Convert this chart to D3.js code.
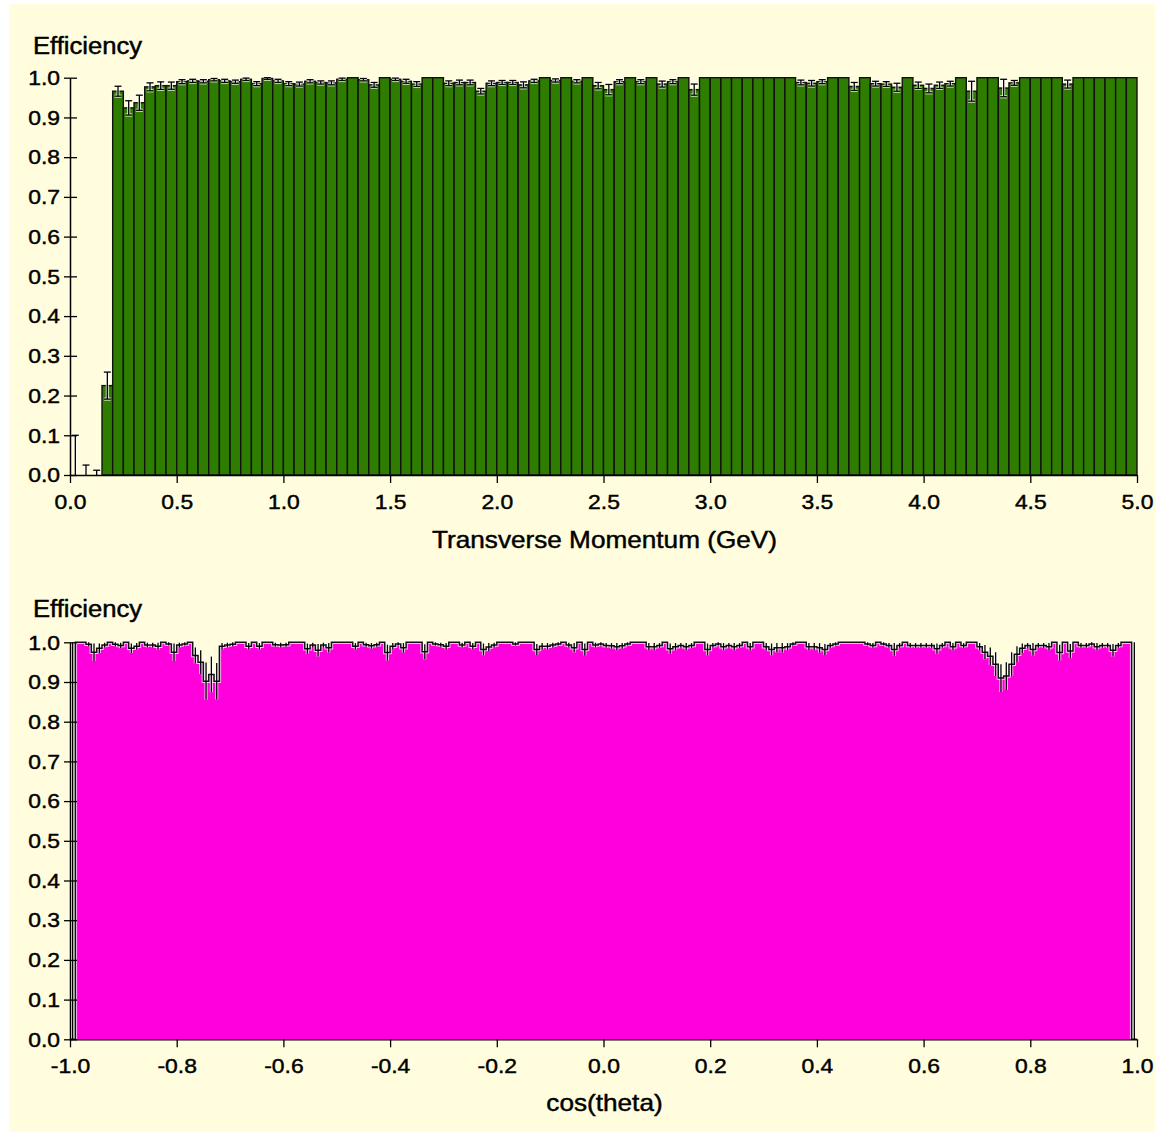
<!DOCTYPE html>
<html>
<head>
<meta charset="utf-8">
<script src="https://cdn.jsdelivr.net/npm/d3@7"></script>
<style>
  html, body { margin: 0; padding: 0; background: #ffffff; }
  svg { display: block; }
  text { font-family: "Liberation Sans", Arial, sans-serif; fill: #000; }
</style>
</head>
<body>
<script>
// ---------------- DATA ----------------
// Top: efficiency vs transverse momentum, 100 bins of 0.05 GeV from 0 to 5 GeV
const ptRange = [0, 5];
const ptValues = [
  0, 0, 0, 0.225, 0.966, 0.924, 0.937, 0.977, 0.980, 0.980,
  0.990, 0.992, 0.991, 0.995, 0.992, 0.990, 0.996, 0.985, 0.998, 0.992,
  0.985, 0.984, 0.991, 0.988, 0.987, 0.996, 1.0, 0.995, 0.982, 1.0,
  0.996, 0.991, 0.984, 1.0, 1.0, 0.986, 0.988, 0.988, 0.966, 0.986,
  0.988, 0.988, 0.982, 0.992, 1.0, 0.993, 1.0, 0.991, 1.0, 0.980,
  0.970, 0.990, 1.0, 0.990, 1.0, 0.984, 0.990, 1.0, 0.970, 1.0,
  1.0, 1.0, 1.0, 1.0, 1.0, 1.0, 1.0, 1.0, 0.988, 0.986,
  0.990, 1.0, 1.0, 0.978, 1.0, 0.985, 0.984, 0.976, 1.0, 0.981,
  0.973, 0.981, 0.985, 1.0, 0.966, 1.0, 1.0, 0.974, 0.987, 1.0,
  1.0, 1.0, 1.0, 0.984, 1.0, 1.0, 1.0, 1.0, 1.0, 1.0
];
const ptErrors = [
  0.1, 0.025, 0.012, 0.034, 0.0125, 0.018, 0.019, 0.010, 0.0095, 0.009,
  0.005, 0.004, 0.004, 0.003, 0.004, 0.004, 0.003, 0.005, 0.002, 0.004,
  0.005, 0.005, 0.004, 0.004, 0.005, 0.003, 0, 0.003, 0.006, 0,
  0.003, 0.005, 0.006, 0, 0, 0.006, 0.006, 0.006, 0.007, 0.006,
  0.005, 0.005, 0.0075, 0.004, 0, 0.004, 0, 0.004, 0, 0.008,
  0.013, 0.005, 0, 0.005, 0, 0.0075, 0.005, 0, 0.014, 0,
  0, 0, 0, 0, 0, 0, 0, 0, 0.006, 0.007,
  0.005, 0, 0, 0.01, 0, 0.006, 0.006, 0.01, 0, 0.008,
  0.011, 0.008, 0.006, 0, 0.025, 0, 0, 0.022, 0.006, 0,
  0, 0, 0, 0.01, 0, 0, 0, 0, 0, 0
];
const ptTicks = [0.0, 0.5, 1.0, 1.5, 2.0, 2.5, 3.0, 3.5, 4.0, 4.5, 5.0];

// Bottom: efficiency vs cos(theta), 200 bins of 0.01 from -1 to 1
const cosRange = [-1, 1];
const cosValues = [
  0, 1.0, 1.0, 0.995, 0.975, 0.985, 0.993, 1.0, 0.995, 0.992,
  1.0, 0.985, 0.99, 1.0, 0.993, 0.993, 0.99, 1.0, 0.996, 0.975,
  0.993, 0.996, 1.0, 0.967, 0.95, 0.902, 0.919, 0.902, 0.99, 0.993,
  0.995, 1.0, 1.0, 0.99, 1.0, 0.99, 1.0, 1.0, 0.994, 0.993,
  0.994, 1.0, 1.0, 1.0, 0.984, 0.993, 0.98, 0.993, 0.986, 1.0,
  1.0, 1.0, 1.0, 0.99, 1.0, 0.994, 0.991, 0.994, 1.0, 0.974,
  0.99, 0.996, 0.986, 1.0, 1.0, 1.0, 0.976, 1.0, 0.996, 0.994,
  0.99, 1.0, 1.0, 0.993, 1.0, 0.99, 1.0, 0.982, 0.988, 0.993,
  1.0, 1.0, 1.0, 0.996, 1.0, 1.0, 1.0, 0.982, 0.99, 0.99,
  0.993, 0.996, 1.0, 0.993, 0.986, 1.0, 0.982, 1.0, 0.993, 0.996,
  0.992, 0.991, 0.989, 0.991, 0.996, 1.0, 1.0, 1.0, 0.989, 0.989,
  0.992, 1.0, 0.984, 0.989, 0.992, 0.989, 0.992, 1.0, 1.0, 0.982,
  0.992, 0.996, 0.989, 0.992, 0.989, 0.992, 1.0, 0.989, 1.0, 1.0,
  0.989, 0.982, 0.986, 0.986, 0.989, 0.996, 1.0, 1.0, 0.989, 0.989,
  0.986, 0.982, 0.992, 0.996, 1.0, 1.0, 1.0, 1.0, 1.0, 0.996,
  0.992, 1.0, 0.996, 0.992, 0.982, 0.992, 1.0, 0.992, 0.992, 0.992,
  0.992, 0.992, 0.984, 0.992, 1.0, 0.989, 1.0, 0.992, 1.0, 1.0,
  0.989, 0.975, 0.965, 0.945, 0.91, 0.915, 0.945, 0.97, 0.985, 0.992,
  0.982, 0.992, 0.992, 0.989, 1.0, 0.974, 1.0, 0.978, 1.0, 0.992,
  0.992, 0.996, 0.989, 0.992, 0.992, 0.98, 0.992, 1.0, 1.0, 0
];
const cosErrors = [
  1.0, 0, 0, 0.005, 0.022, 0.012, 0.006, 0, 0.005, 0.007,
  0, 0.012, 0.008, 0, 0.006, 0.006, 0.009, 0, 0.004, 0.022,
  0.006, 0.004, 0, 0.02, 0.03, 0.047, 0.045, 0.046, 0.008, 0.006,
  0.005, 0, 0, 0.008, 0, 0.008, 0, 0, 0.005, 0.006,
  0.005, 0, 0, 0, 0.013, 0.006, 0.016, 0.006, 0.012, 0,
  0, 0, 0, 0.008, 0, 0.005, 0.007, 0.005, 0, 0.02,
  0.008, 0.004, 0.012, 0, 0, 0, 0.019, 0, 0.004, 0.005,
  0.008, 0, 0, 0.006, 0, 0.008, 0, 0.015, 0.01, 0.006,
  0, 0, 0, 0.004, 0, 0, 0, 0.014, 0.008, 0.008,
  0.006, 0.004, 0, 0.006, 0.012, 0, 0.015, 0, 0.006, 0.004,
  0.006, 0.007, 0.009, 0.007, 0.004, 0, 0, 0, 0.009, 0.009,
  0.006, 0, 0.013, 0.009, 0.006, 0.009, 0.006, 0, 0, 0.015,
  0.006, 0.004, 0.009, 0.006, 0.009, 0.006, 0, 0.009, 0, 0,
  0.009, 0.015, 0.012, 0.012, 0.009, 0.004, 0, 0, 0.009, 0.009,
  0.012, 0.014, 0.006, 0.004, 0, 0, 0, 0, 0, 0.004,
  0.006, 0, 0.004, 0.006, 0.016, 0.006, 0, 0.006, 0.006, 0.006,
  0.006, 0.006, 0.013, 0.006, 0, 0.009, 0, 0.006, 0, 0,
  0.009, 0.018, 0.022, 0.03, 0.035, 0.035, 0.03, 0.02, 0.012, 0.006,
  0.016, 0.006, 0.006, 0.009, 0, 0.02, 0, 0.018, 0, 0.006,
  0.006, 0.004, 0.009, 0.006, 0.006, 0.016, 0.006, 0, 0, 1.0
];
const cosTicks = [-1.0, -0.8, -0.6, -0.4, -0.2, 0.0, 0.2, 0.4, 0.6, 0.8, 1.0];

const effTicks = [0.0, 0.1, 0.2, 0.3, 0.4, 0.5, 0.6, 0.7, 0.8, 0.9, 1.0];
const yLabel = "Efficiency";
const ptTitle = "Transverse Momentum (GeV)";
const cosTitle = "cos(theta)";

// ---------------- DRAW ----------------
const W = 1155, H = 1136;
const svg = d3.select("body").append("svg").attr("width", W).attr("height", H);
svg.append("rect").attr("x", 0).attr("y", 0).attr("width", W).attr("height", H).attr("fill", "#ffffff");
svg.append("rect").attr("x", 9).attr("y", 4).attr("width", W - 9).attr("height", H - 8).attr("fill", "#fffddd");

const GREEN = "#2e7d00", MAGENTA = "#ff00dd";
const fmt = d => d.toFixed(1);
const WIDEN = 1.09;

// widen glyphs horizontally and thicken strokes a little, like the reference rendering
function styleText(sel, size) {
  sel.attr("font-size", size)
     .attr("font-family", "Liberation Sans, Arial, sans-serif")
     .attr("fill", "#000")
     .attr("stroke", "#000").attr("stroke-width", 0.45)
     .each(function () {
       const len = this.getComputedTextLength();
       this.setAttribute("textLength", (len * WIDEN).toFixed(2));
       this.setAttribute("lengthAdjust", "spacingAndGlyphs");
     });
}

function drawAxes(g, x, y, xTicks, title, titleY, effY) {
  // y-axis (ticks cross the axis line)
  const ya = g.append("g").attr("transform", `translate(${x.range()[0]},0)`)
    .call(d3.axisLeft(y).tickValues(effTicks).tickFormat(fmt).tickSizeInner(6).tickSizeOuter(0).tickPadding(4));
  ya.select(".domain").attr("stroke", "#000").attr("stroke-width", 1.5);
  ya.selectAll(".tick line").attr("stroke", "#000").attr("stroke-width", 1.3);
  styleText(ya.selectAll(".tick text"), 21);
  g.append("g").attr("transform", `translate(${x.range()[0]},0)`)
    .call(d3.axisRight(y).tickValues(effTicks).tickFormat("").tickSizeInner(7).tickSizeOuter(0))
    .call(s => { s.select(".domain").remove(); s.selectAll(".tick line").attr("stroke", "#000").attr("stroke-width", 1.3); });

  // x-axis
  const xa = g.append("g").attr("transform", `translate(0,${y(0)})`)
    .call(d3.axisBottom(x).tickValues(xTicks).tickFormat(fmt).tickSizeInner(8).tickSizeOuter(0).tickPadding(11));
  xa.select(".domain").attr("stroke", "#000").attr("stroke-width", 1.3);
  xa.selectAll(".tick line").attr("stroke", "#000").attr("stroke-width", 1.3);
  styleText(xa.selectAll(".tick text"), 21);

  styleText(g.append("text").attr("x", (x.range()[0] + x.range()[1]) / 2 + 1).attr("y", titleY)
    .attr("text-anchor", "middle").text(title), 24);
  styleText(g.append("text").attr("x", 33).attr("y", effY).text(yLabel), 23.5);
}

// ---- Top chart ----
{
  const g = svg.append("g");
  const x = d3.scaleLinear().domain(ptRange).range([70, 1137]);
  const y = d3.scaleLinear().domain([0, 1]).range([475, 77.7]);
  const n = ptValues.length;
  const bw = (ptRange[1] - ptRange[0]) / n;
  const bins = ptValues.map((v, i) => ({ lo: ptRange[0] + i * bw, hi: ptRange[0] + (i + 1) * bw, v, e: ptErrors[i] }));

  g.append("g").selectAll("rect").data(bins).join("rect")
    .attr("x", d => x(d.lo)).attr("width", d => x(d.hi) - x(d.lo))
    .attr("y", d => y(d.v)).attr("height", d => y(0) - y(d.v))
    .attr("fill", GREEN).attr("stroke", "#111").attr("stroke-width", 1.4);

  const eb = bins.filter(d => d.e > 0);
  const eg = g.append("g");
  const lines = (sel, stroke, sw) => {
    sel.selectAll(null).data(eb).join("line")
      .attr("x1", d => x((d.lo + d.hi) / 2)).attr("x2", d => x((d.lo + d.hi) / 2))
      .attr("y1", d => y(Math.max(0, d.v - d.e))).attr("y2", d => y(Math.min(1, d.v + d.e)))
      .attr("stroke", stroke).attr("stroke-width", sw);
    sel.selectAll(null).data(eb).join("line")
      .attr("x1", d => x((d.lo + d.hi) / 2) - 3.5).attr("x2", d => x((d.lo + d.hi) / 2) + 3.5)
      .attr("y1", d => y(Math.min(1, d.v + d.e))).attr("y2", d => y(Math.min(1, d.v + d.e)))
      .attr("stroke", stroke).attr("stroke-width", sw);
    sel.selectAll(null).data(eb.filter(d => d.v - d.e > 0)).join("line")
      .attr("x1", d => x((d.lo + d.hi) / 2) - 3.5).attr("x2", d => x((d.lo + d.hi) / 2) + 3.5)
      .attr("y1", d => y(d.v - d.e)).attr("y2", d => y(d.v - d.e))
      .attr("stroke", stroke).attr("stroke-width", sw);
  };
  lines(eg.append("g"), "rgba(255,255,255,0.75)", 3.2);
  lines(eg.append("g"), "#000", 1.3);

  drawAxes(g, x, y, ptTicks, ptTitle, 548, 54);
}

// ---- Bottom chart ----
{
  const g = svg.append("g");
  const x = d3.scaleLinear().domain(cosRange).range([70, 1137]);
  const y = d3.scaleLinear().domain([0, 1]).range([1039.3, 642.3]);
  const n = cosValues.length;
  const bw = (cosRange[1] - cosRange[0]) / n;
  const bins = cosValues.map((v, i) => ({ lo: cosRange[0] + i * bw, hi: cosRange[0] + (i + 1) * bw, v, e: cosErrors[i] }));

  const pts = [[bins[0].lo, 0]];
  bins.forEach(d => { pts.push([d.lo, d.v]); pts.push([d.hi, d.v]); });
  pts.push([bins[n - 1].hi, 0]);
  const line = d3.line().x(p => x(p[0])).y(p => y(p[1]));

  g.append("path").attr("d", line(pts) + "Z").attr("fill", MAGENTA).attr("stroke", "none");

  const eb = bins.filter(d => d.e > 0);
  const errs = (sel, stroke, sw) => sel.selectAll(null).data(eb).join("line")
    .attr("x1", d => x((d.lo + d.hi) / 2)).attr("x2", d => x((d.lo + d.hi) / 2))
    .attr("y1", d => y(Math.max(0, d.v - d.e))).attr("y2", d => y(Math.min(1, d.v + d.e)))
    .attr("stroke", stroke).attr("stroke-width", sw);

  g.append("path").attr("d", line(pts)).attr("fill", "none").attr("stroke", "rgba(255,255,255,0.7)").attr("stroke-width", 3.5);
  errs(g.append("g"), "rgba(255,255,255,0.7)", 3.2);
  g.append("path").attr("d", line(pts)).attr("fill", "none").attr("stroke", "#111").attr("stroke-width", 1.5);
  errs(g.append("g"), "#000", 1.3);

  drawAxes(g, x, y, cosTicks, cosTitle, 1111, 617);
}
</script>
</body>
</html>
